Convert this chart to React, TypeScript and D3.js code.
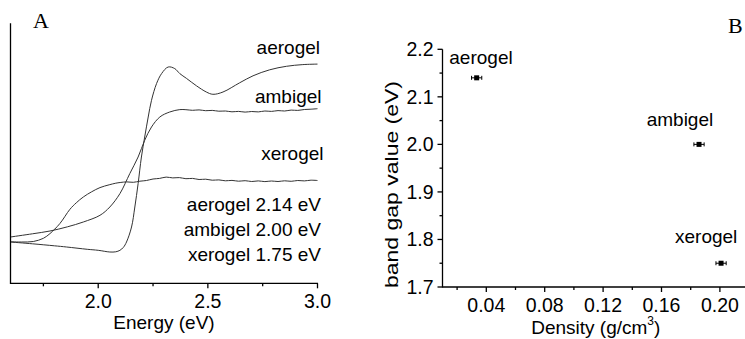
import React from "react";
import * as d3 from "d3";

// Panel A: absorption spectra (arbitrary units) vs photon energy (eV)
const aerogelSpectrum: [number, number][] = [
  [1.6, 41.3], [1.7, 39.5], [1.8, 37.5], [1.856, 36.3], [1.95, 34], [2.0, 33],
  [2.053, 31.3], [2.08, 31.5], [2.099, 33], [2.115, 36], [2.129, 41.3], [2.152, 56.3],
  [2.167, 76.3], [2.182, 99.7], [2.197, 126.3], [2.212, 146.3], [2.228, 166.3],
  [2.243, 183], [2.266, 199.7], [2.289, 209.7], [2.319, 216.3], [2.349, 214.7],
  [2.372, 209.7], [2.402, 205], [2.448, 197.5], [2.493, 191.3], [2.523, 189],
  [2.569, 191.3], [2.645, 200.5], [2.706, 207.5], [2.782, 213.5], [2.858, 217],
  [2.933, 218.7], [3.0, 219.2],
];

const ambigelSpectrum: [number, number][] = [
  [1.6, 46.3], [1.7, 49.5], [1.78, 52.3], [1.86, 56.5], [1.932, 61.3], [2.008, 68],
  [2.053, 76.3], [2.099, 89.7], [2.144, 109.7], [2.182, 126.3], [2.212, 143],
  [2.243, 156.3], [2.281, 166.3], [2.326, 171.3], [2.372, 173.7], [2.4, 173.6],
  [2.43, 173.0], [2.46, 173.4], [2.49, 172.6], [2.52, 172.9], [2.55, 172.1],
  [2.58, 172.3], [2.61, 171.5], [2.64, 171.9], [2.67, 171.2], [2.7, 171.8],
  [2.73, 171.4], [2.76, 172.3], [2.79, 171.9], [2.82, 172.7], [2.85, 172.3],
  [2.88, 173.2], [2.91, 172.9], [2.94, 173.8], [2.97, 174.1], [3.0, 174.6],
];

const xerogelSpectrum: [number, number][] = [
  [1.6, 41.5], [1.65, 41.3], [1.704, 41.8], [1.75, 45], [1.78, 49.7], [1.825, 59.7],
  [1.871, 74], [1.9, 80.5], [1.932, 86.3], [1.97, 91.5], [2.008, 95.7], [2.05, 98.5],
  [2.08, 100.1], [2.1, 100.8], [2.13, 101.4], [2.16, 101.0], [2.19, 102.1],
  [2.22, 102.8], [2.25, 104.3], [2.28, 104.9], [2.31, 106.2], [2.34, 105.4],
  [2.37, 105.7], [2.4, 104.6], [2.43, 104.9], [2.46, 103.8], [2.49, 104.1],
  [2.52, 103.1], [2.55, 103.4], [2.58, 102.5], [2.61, 102.9], [2.64, 102.1],
  [2.67, 102.6], [2.7, 101.8], [2.73, 102.4], [2.76, 101.7], [2.79, 102.3],
  [2.82, 101.8], [2.85, 102.5], [2.88, 102.0], [2.91, 102.8], [2.94, 102.4],
  [2.97, 103.1], [3.0, 102.8],
];

const spectrumNames = ["aerogel", "ambigel", "xerogel"];
const bandGapLabels = ["aerogel 2.14 eV", "ambigel 2.00 eV", "xerogel 1.75 eV"];
const energyTicks = [2.0, 2.5, 3.0];
const energyMinorTicks = [1.75, 2.25, 2.75];

// Panel B: band gap vs density
const sampleNames = ["aerogel", "ambigel", "xerogel"];
const densities = [0.0334, 0.1857, 0.2008];
const densityErrors = [0.0035, 0.0035, 0.0035];
const bandGaps = [2.14, 2.0, 1.75];
const densityTicks = [0.04, 0.08, 0.12, 0.16, 0.2];
const densityMinorTicks = [0.02, 0.06, 0.1, 0.14, 0.18];
const gapTicks = [1.7, 1.8, 1.9, 2.0, 2.1, 2.2];
const gapMinorTicks = [1.75, 1.85, 1.95, 2.05, 2.15];

const FONT = "'Liberation Sans', Arial, Helvetica, sans-serif";
const SERIF = "'Liberation Serif', 'Times New Roman', serif";

export default function App() {
  const W = 745;
  const H = 339;

  // ---- Panel A scales
  const xA = d3.scaleLinear().domain([1.6, 3.0]).range([10.5, 317.5]);
  const yA = d3.scaleLinear().domain([0, 260]).range([283.3, 23.3]);
  const lineA = d3
    .line<[number, number]>()
    .x((d) => xA(d[0]))
    .y((d) => yA(d[1]))
    .curve(d3.curveCatmullRom.alpha(0.5));
  const spectra = [aerogelSpectrum, ambigelSpectrum, xerogelSpectrum];
  const fmtA = d3.format(".1f");

  // ---- Panel B scales
  const xB = d3.scaleLinear().domain([0.01, 0.22]).range([442.5, 749.1]);
  const yB = d3.scaleLinear().domain([1.7, 2.2]).range([287, 49.3]);
  const fmtB = d3.format(".2f");

  const nameLabelPos = [
    { x: 320, y: 53.5 },
    { x: 321.5, y: 103 },
    { x: 323.5, y: 159.5 },
  ];
  const gapLabelY = [210.5, 236, 261];
  const pointLabelPos = [
    { x: 449.3, y: 63.5 },
    { x: 646.7, y: 126 },
    { x: 675, y: 243.3 },
  ];

  const axisY0 = yA.range()[0];
  const axisB0 = yB.range()[0];

  return (
    <svg
      width={W}
      height={H}
      viewBox={`0 0 ${W} ${H}`}
      style={{ position: "absolute", left: 0, top: 0, background: "#fff" }}
    >
      <rect x={0} y={0} width={W} height={H} fill="#fff" />

      {/* ===== Panel A ===== */}
      <text x={33} y={28} fontFamily={SERIF} fontSize={22} fill="#000">
        A
      </text>
      <g fill="none" stroke="#333" strokeWidth={1}>
        {spectra.map((s, i) => (
          <path key={i} d={lineA(s) || ""} />
        ))}
      </g>
      {/* axes */}
      <g stroke="#000" strokeWidth={1.3} fill="none">
        <line x1={xA.range()[0]} x2={xA.range()[0]} y1={yA.range()[1]} y2={axisY0 + 0.65} />
        <line x1={xA.range()[0]} x2={xA.range()[1] + 0.5} y1={axisY0} y2={axisY0} />
        {energyTicks.map((t) => (
          <line key={t} x1={xA(t)} x2={xA(t)} y1={axisY0} y2={axisY0 + 5} />
        ))}
        {energyMinorTicks.map((t) => (
          <line key={t} x1={xA(t)} x2={xA(t)} y1={axisY0} y2={axisY0 + 3} />
        ))}
      </g>
      <g fontFamily={FONT} fontSize={19.5} fill="#000" textAnchor="middle">
        {energyTicks.map((t) => (
          <text key={t} x={xA(t)} y={308}>
            {fmtA(t)}
          </text>
        ))}
      </g>
      <text
        x={(xA.range()[0] + xA.range()[1]) / 2}
        y={328.5}
        fontFamily={FONT}
        fontSize={19}
        textAnchor="middle"
        fill="#000"
      >
        Energy (eV)
      </text>
      <g fontFamily={FONT} fontSize={19} fill="#000" textAnchor="end">
        {spectrumNames.map((n, i) => (
          <text key={n} x={nameLabelPos[i].x} y={nameLabelPos[i].y}>
            {n}
          </text>
        ))}
        {bandGapLabels.map((n, i) => (
          <text key={n} x={321} y={gapLabelY[i]}>
            {n}
          </text>
        ))}
      </g>

      {/* ===== Panel B ===== */}
      <text x={728} y={33} fontFamily={SERIF} fontSize={22} fill="#000">
        B
      </text>
      <g stroke="#000" strokeWidth={1.3} fill="none">
        <line x1={xB.range()[0]} x2={xB.range()[0]} y1={yB.range()[1]} y2={axisB0 + 0.65} />
        <line x1={xB.range()[0]} x2={xB.range()[1]} y1={axisB0} y2={axisB0} />
        {gapTicks.map((t) => (
          <line key={t} x1={xB.range()[0]} x2={xB.range()[0] - 5} y1={yB(t)} y2={yB(t)} />
        ))}
        {gapMinorTicks.map((t) => (
          <line key={t} x1={xB.range()[0]} x2={xB.range()[0] - 3} y1={yB(t)} y2={yB(t)} />
        ))}
        {densityTicks.map((t) => (
          <line key={t} x1={xB(t)} x2={xB(t)} y1={axisB0} y2={axisB0 + 5} />
        ))}
        {densityMinorTicks.map((t) => (
          <line key={t} x1={xB(t)} x2={xB(t)} y1={axisB0} y2={axisB0 + 3} />
        ))}
      </g>
      <g fontFamily={FONT} fontSize={19.5} fill="#000">
        {gapTicks.map((t) => (
          <text key={t} x={433.5} y={yB(t) + 6.8} textAnchor="end">
            {fmtA(t)}
          </text>
        ))}
        {densityTicks.map((t) => (
          <text key={t} x={xB(t)} y={311.7} textAnchor="middle">
            {fmtB(t)}
          </text>
        ))}
      </g>
      <text
        x={595.8}
        y={334.3}
        fontFamily={FONT}
        fontSize={19}
        textAnchor="middle"
        fill="#000"
      >
        Density (g/cm
        <tspan fontSize={12} dy={-9}>
          3
        </tspan>
        <tspan dy={9}>)</tspan>
      </text>
      <text
        transform="translate(397.7, 184.5) rotate(-90)"
        fontFamily={FONT}
        fontSize={19}
        textAnchor="middle"
        textLength={207}
        lengthAdjust="spacingAndGlyphs"
        fill="#000"
      >
        band gap value (eV)
      </text>
      {/* data points with horizontal error bars */}
      <g stroke="#000" strokeWidth={1}>
        {sampleNames.map((n, i) => {
          const cx = xB(densities[i]);
          const cy = yB(bandGaps[i]);
          const x0 = xB(densities[i] - densityErrors[i]);
          const x1 = xB(densities[i] + densityErrors[i]);
          return (
            <g key={n}>
              <line x1={x0} x2={x1} y1={cy} y2={cy} />
              <line x1={x0} x2={x0} y1={cy - 2} y2={cy + 2} />
              <line x1={x1} x2={x1} y1={cy - 2} y2={cy + 2} />
              <rect x={cx - 2.5} y={cy - 2.5} width={5} height={5} fill="#000" stroke="none" />
            </g>
          );
        })}
      </g>
      <g fontFamily={FONT} fontSize={19} fill="#000">
        {sampleNames.map((n, i) => (
          <text key={n} x={pointLabelPos[i].x} y={pointLabelPos[i].y}>
            {n}
          </text>
        ))}
      </g>
    </svg>
  );
}
